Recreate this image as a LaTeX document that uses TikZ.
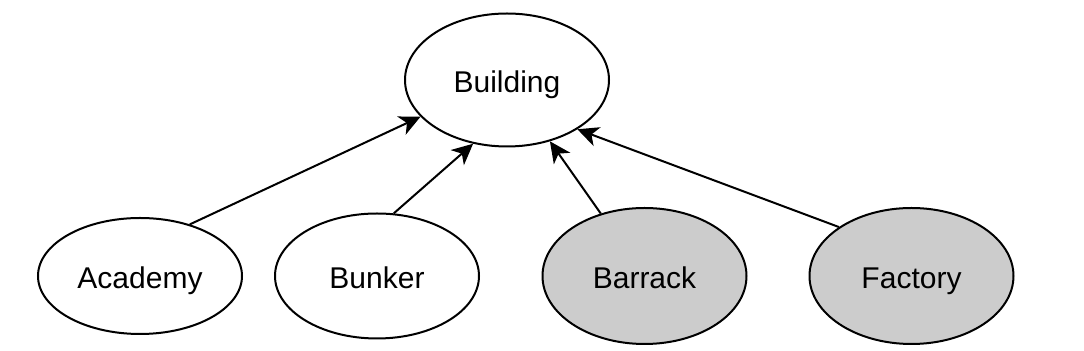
\documentclass[tikz,border=0pt]{standalone}
\usepackage{fontspec}
\setmainfont{Liberation Sans}
\usetikzlibrary{arrows.meta, shapes.geometric}

\begin{document}
\begin{tikzpicture}[x=0.5pt, y=-0.5pt]
            \tikzset{cls/.style={ellipse, draw, line width=1pt, inner sep=0pt, minimum width=102pt, text height=12.2pt, text depth=0pt, font=\fontsize{15}{18}\selectfont},
                     sub/.style={cls, fill=subgray},
                     inh/.style={-{Stealth[length=10.5pt, width=10pt, inset=3pt]}, line width=1pt}}
            \definecolor{subgray}{HTML}{CCCCCC}
            \useasboundingbox (0,0) rectangle (1084,351);

            % Basisklasse
            \node[cls, minimum height=66.5pt] (building) at (507,80) {Building};

            % Afgeleide klassen
            \node[cls, minimum height=58pt] (academy) at (140,276) {Academy};
            \node[cls, minimum height=62.5pt] (bunker) at (377,276) {Bunker};
            \node[sub, minimum height=68pt] (barrack) at (644.5,276) {Barrack};
            \node[sub, minimum height=68pt] (factory) at (911.5,276) {Factory};

            % Overerving
            \draw[inh] (academy.46.7) -- (building.203.7);
            \draw[inh] (bunker.75.4) -- (building.242.4);
            \draw[inh] (barrack.125.9) -- (building.305.5);
            \draw[inh] (factory.146.5) -- (building.325.6);
        \end{tikzpicture}
\end{document}
